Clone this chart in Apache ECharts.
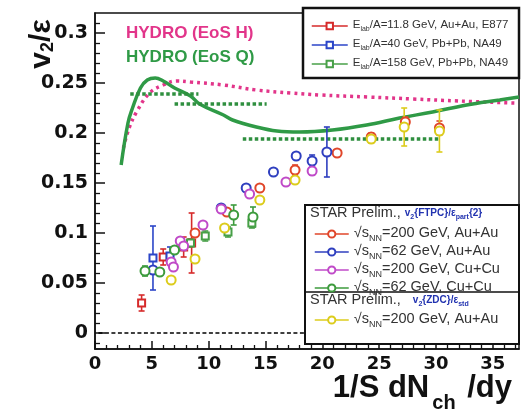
<!DOCTYPE html>
<html>
<head>
<meta charset="utf-8">
<script src="https://cdn.jsdelivr.net/npm/echarts@6/dist/echarts.min.js"></script>
<style>
html, body { margin: 0; padding: 0; background: #fff; }
#chart { width: 524px; height: 417px; }
</style>
</head>
<body>
<div id="chart"></div>
<script>
// hydro curves, [x, v2/eps]
var hydroH = [[2.5, 0.185], [3.0, 0.205], [3.7, 0.222], [4.8, 0.240], [6.0, 0.248], [7.2, 0.252], [8.4, 0.251],
    [11.3, 0.248], [14.2, 0.243], [17.2, 0.240], [19.8, 0.238], [24, 0.236], [28, 0.234], [32, 0.232], [36.9, 0.230]];
var hydroQ = [[2.3, 0.168], [2.9, 0.210], [3.3, 0.225], [4.0, 0.245], [4.6, 0.253], [5.3, 0.255], [6.0, 0.252],
    [7.0, 0.245], [8.4, 0.237], [9.2, 0.229], [11.3, 0.218], [12.1, 0.213], [14.2, 0.206], [16.0, 0.202],
    [18.0, 0.201], [20.9, 0.203], [23.9, 0.208], [26.8, 0.215], [29.7, 0.221], [32.7, 0.228], [35.6, 0.233], [37.3, 0.236]];
// dotted green bands: [xFrom, xTo, y]
var hydroSegs = [[3.1, 9.1, 0.239], [7.0, 15.1, 0.229], [13.0, 30.2, 0.194]];
// dashed zero reference: [xFrom, y, xTo]
var zeroLine = [[0.3, 0, 37.3]];

// measurements: [x, y, error]  (error 0 = no bar)
var e877 = [[4.1, 0.030, 0.008], [6.0, 0.076, 0.008], [7.8, 0.086, 0.010], [8.5, 0.090, 0.030]];
var na49lo = [[5.1, 0.075, 0.032], [6.6, 0.077, 0.009]];
var na49hi = [[8.4, 0.090, 0.004], [9.7, 0.097, 0.005], [11.7, 0.101, 0.005], [13.8, 0.110, 0.005]];
var au200 = [[8.8, 0.100, 0], [11.6, 0.121, 0], [14.5, 0.145, 0], [17.6, 0.163, 0.005], [21.3, 0.180, 0],
    [24.3, 0.196, 0.004], [27.3, 0.211, 0.005], [30.3, 0.205, 0.007]];
var au62 = [[5.1, 0.063, 0], [11.1, 0.125, 0], [13.3, 0.145, 0], [15.7, 0.161, 0], [17.7, 0.177, 0],
    [19.1, 0.172, 0.006], [20.4, 0.181, 0.025]];
var cu200 = [[6.7, 0.071, 0], [6.9, 0.066, 0], [7.5, 0.092, 0], [7.8, 0.087, 0], [9.5, 0.108, 0],
    [11.1, 0.124, 0], [13.6, 0.139, 0], [16.8, 0.151, 0], [19.1, 0.162, 0.004]];
var cu62 = [[4.4, 0.062, 0.005], [5.7, 0.061, 0], [7.0, 0.083, 0], [12.2, 0.118, 0.010], [13.9, 0.116, 0.010]];
var zdc = [[6.7, 0.053, 0], [8.8, 0.074, 0], [11.4, 0.105, 0], [14.5, 0.133, 0], [17.6, 0.153, 0],
    [24.3, 0.194, 0.004], [27.2, 0.206, 0.019], [30.3, 0.202, 0.021]];

var yMajor = [0, 0.05, 0.1, 0.15, 0.2, 0.25, 0.3];
var yMinor = [-0.01, 0.01, 0.02, 0.03, 0.04, 0.06, 0.07, 0.08, 0.09, 0.11, 0.12, 0.13, 0.14, 0.16, 0.17, 0.18, 0.19,
    0.21, 0.22, 0.23, 0.24, 0.26, 0.27, 0.28, 0.29, 0.31];
var xMajor = [0, 5, 10, 15, 20, 25, 30, 35];
var xMinor = [1, 2, 3, 4, 6, 7, 8, 9, 11, 12, 13, 14, 16, 17, 18, 19, 21, 22, 23, 24, 26, 27, 28, 29, 31, 32, 33, 34, 36, 37];

var names = {
    e877: 'Elab/A=11.8 GeV, Au+Au, E877',
    na49lo: 'Elab/A=40 GeV, Pb+Pb, NA49',
    na49hi: 'Elab/A=158 GeV, Pb+Pb, NA49',
    au200: 'sNN=200 GeV, Au+Au',
    au62: 'sNN=62 GeV, Au+Au',
    cu200: 'sNN=200 GeV, Cu+Cu',
    cu62: 'sNN=62 GeV, Cu+Cu',
    zdc: 'sNN=200 GeV, Au+Au (ZDC)'
};
var legendText = {};
legendText[names.e877] = '{t|E}{s|lab}{t|/A=11.8 GeV, Au+Au, E877}';
legendText[names.na49lo] = '{t|E}{s|lab}{t|/A=40 GeV, Pb+Pb, NA49}';
legendText[names.na49hi] = '{t|E}{s|lab}{t|/A=158 GeV, Pb+Pb, NA49}';
legendText[names.au200] = '{t|√s}{s|NN}{t|=200 GeV, Au+Au}';
legendText[names.au62] = '{t|√s}{s|NN}{t|=62 GeV, Au+Au}';
legendText[names.cu200] = '{t|√s}{s|NN}{t|=200 GeV, Cu+Cu}';
legendText[names.cu62] = '{t|√s}{s|NN}{t|=62 GeV, Cu+Cu}';
legendText[names.zdc] = '{t|√s}{s|NN}{t|=200 GeV, Au+Au}';

function pointSeries(name, pts, color, symbol, size) {
    return {
        name: name,
        type: 'line',
        data: pts.map(function (p) { return [p[0], p[1]]; }),
        symbol: symbol,
        symbolSize: size,
        showSymbol: true,
        lineStyle: { opacity: 0, width: 1.5, color: color },
        itemStyle: { color: color, borderColor: color, borderWidth: 1.5 },
        z: 4,
        silent: true,
        animation: false
    };
}

function errorSeries(pts, color) {
    return {
        type: 'custom',
        data: pts.filter(function (p) { return p[2] > 0; }),
        encode: { x: 0, y: 1 },
        z: 3,
        silent: true,
        animation: false,
        renderItem: function (params, api) {
            var x = api.value(0), y = api.value(1), e = api.value(2);
            var hi = api.coord([x, y + e]);
            var lo = api.coord([x, y - e]);
            var cap = 3;
            var st = { stroke: color, lineWidth: 1.6 };
            return {
                type: 'group',
                children: [
                    { type: 'line', shape: { x1: hi[0], y1: hi[1], x2: lo[0], y2: lo[1] }, style: st },
                    { type: 'line', shape: { x1: hi[0] - cap, y1: hi[1], x2: hi[0] + cap, y2: hi[1] }, style: st },
                    { type: 'line', shape: { x1: lo[0] - cap, y1: lo[1], x2: lo[0] + cap, y2: lo[1] }, style: st }
                ]
            };
        }
    };
}

var sets = [
    { key: 'e877', pts: e877, color: '#d62a2a', symbol: 'emptyRect', size: 7 },
    { key: 'na49lo', pts: na49lo, color: '#2b45c8', symbol: 'emptyRect', size: 7 },
    { key: 'na49hi', pts: na49hi, color: '#48a048', symbol: 'emptyRect', size: 7 },
    { key: 'au200', pts: au200, color: '#e0462a', symbol: 'emptyCircle', size: 9 },
    { key: 'au62', pts: au62, color: '#2f3fbf', symbol: 'emptyCircle', size: 9 },
    { key: 'cu200', pts: cu200, color: '#c04ac8', symbol: 'emptyCircle', size: 9 },
    { key: 'cu62', pts: cu62, color: '#3d9b3d', symbol: 'emptyCircle', size: 9 },
    { key: 'zdc', pts: zdc, color: '#dccc1c', symbol: 'emptyCircle', size: 9 }
];

var series = [];
series.push({
    type: 'custom', data: zeroLine, z: 3, silent: true, animation: false, clip: false,
    encode: { x: [0, 2], y: 1 },
    renderItem: function (params, api) {
        var a = api.coord([api.value(0), api.value(1)]);
        var b = api.coord([api.value(2), api.value(1)]);
        return {
            type: 'line',
            shape: { x1: a[0], y1: a[1], x2: b[0], y2: b[1] },
            style: { stroke: '#000', lineWidth: 1.3, lineDash: [4, 2.5] }
        };
    }
});
series.push({
    type: 'line', data: hydroH, smooth: 0.4, symbol: 'none', z: 2, silent: true, animation: false,
    lineStyle: { color: '#e2358a', width: 3.5, type: [3, 4], cap: 'butt' }
});
series.push({
    type: 'line', data: hydroQ, smooth: 0.4, symbol: 'none', z: 2, silent: true, animation: false,
    lineStyle: { color: '#2f9a46', width: 3.5 }
});
hydroSegs.forEach(function (s) {
    series.push({
        type: 'line', data: [[s[0], s[2]], [s[1], s[2]]], symbol: 'none', z: 2, silent: true, animation: false,
        lineStyle: { color: '#2f8f3f', width: 3.5, type: [3.5, 2.5], cap: 'butt' }
    });
});
sets.forEach(function (d) {
    series.push(errorSeries(d.pts, d.color));
    series.push(pointSeries(names[d.key], d.pts, d.color, d.symbol, d.size));
});

var smallRich = {
    t: { fontSize: 11.5, color: '#333', padding: [0, 0, 2, 0], verticalAlign: 'bottom' },
    s: { fontSize: 7, color: '#333', verticalAlign: 'bottom' }
};
var bigRich = {
    t: { fontSize: 14.5, color: '#333', padding: [0, 0, 3, 0], verticalAlign: 'bottom' },
    s: { fontSize: 9, color: '#333', verticalAlign: 'bottom' }
};
function fmt(name) { return legendText[name]; }
var legendCommon = {
    orient: 'vertical',
    selectedMode: false,
    formatter: fmt,
    lineStyle: { width: 1.5, opacity: 1 },
    itemStyle: { opacity: 1 },
    z: 21
};

var option = {
    animation: false,
    backgroundColor: '#fff',
    textStyle: { fontFamily: 'Liberation Sans, Arial, sans-serif' },
    grid: {
        left: 95, right: 5, top: 13, bottom: 68, show: true, borderColor: '#111', borderWidth: 1.5,
        containLabel: false, outerBoundsMode: 'none'
    },
    xAxis: [{
        type: 'value', min: 0, max: 37.3, position: 'bottom',
        axisLine: { onZero: false, lineStyle: { color: '#111', width: 1.5 } },
        axisTick: { inside: true, length: 8, customValues: xMajor, lineStyle: { color: '#111', width: 1.5 } },
        axisLabel: {
            customValues: xMajor, margin: 6, color: '#111', fontSize: 18, fontWeight: 'bold',
            fontFamily: 'DejaVu Sans'
        },
        splitLine: { show: false }
    }, {
        type: 'value', min: 0, max: 37.3, position: 'bottom',
        axisLine: { show: false, onZero: false },
        axisTick: { inside: true, length: 4, customValues: xMinor, lineStyle: { color: '#111', width: 1.3 } },
        axisLabel: { show: false },
        splitLine: { show: false }
    }],
    yAxis: [{
        type: 'value', min: -0.016, max: 0.32, position: 'left',
        axisLine: { onZero: false, lineStyle: { color: '#111', width: 1.5 } },
        axisTick: { inside: true, length: 10, customValues: yMajor, lineStyle: { color: '#111', width: 1.5 } },
        axisLabel: {
            customValues: yMajor, margin: 7, color: '#111', fontSize: 19, fontWeight: 'bold',
            fontFamily: 'DejaVu Sans',
            formatter: function (v) { return String(+v.toFixed(2)); }
        },
        splitLine: { show: false }
    }, {
        type: 'value', min: -0.016, max: 0.32, position: 'left',
        axisLine: { show: false, onZero: false },
        axisTick: { inside: true, length: 5, customValues: yMinor, lineStyle: { color: '#111', width: 1.3 } },
        axisLabel: { show: false },
        splitLine: { show: false }
    }],
    legend: [
        echarts.util.extend({
            data: [names.e877, names.na49lo, names.na49hi],
            left: 306, top: 14, itemWidth: 36, itemHeight: 8, itemGap: 5,
            textStyle: { rich: smallRich }
        }, legendCommon),
        echarts.util.extend({
            data: [names.au200, names.au62, names.cu200, names.cu62],
            left: 309, top: 220, itemWidth: 34, itemHeight: 9, itemGap: 0,
            textStyle: { rich: bigRich }
        }, legendCommon),
        echarts.util.extend({
            data: [names.zdc],
            left: 309, top: 306, itemWidth: 34, itemHeight: 9, itemGap: 0,
            textStyle: { rich: bigRich }
        }, legendCommon)
    ],
    graphic: [
        { type: 'rect', z: 20, shape: { x: 303, y: 8, width: 216, height: 70 }, style: { fill: '#fff', stroke: '#111', lineWidth: 2.5 } },
        { type: 'rect', z: 20, shape: { x: 305, y: 205, width: 214, height: 139 }, style: { fill: '#fff', stroke: '#111', lineWidth: 2 } },
        { type: 'line', z: 20, shape: { x1: 305, y1: 292, x2: 519, y2: 292 }, style: { stroke: '#111', lineWidth: 1.5 } },
        {
            type: 'text', z: 22, x: 310, y: 213,
            style: {
                text: '{h|STAR Prelim., }v{q|2}{FTPC}/ε{q|part}{2}',
                fill: '#2233b0', font: 'bold 10px Liberation Sans', verticalAlign: 'middle',
                rich: {
                    h: { fontSize: 14.5, fontWeight: 'normal', fill: '#333' },
                    q: { fontSize: 7, fontWeight: 'bold', fill: '#2233b0', verticalAlign: 'bottom', padding: [6, 0, 0, 0] }
                }
            }
        },
        {
            type: 'text', z: 22, x: 310, y: 300,
            style: {
                text: '{h|STAR Prelim.,   }v{q|2}{ZDC}/ε{q|std}',
                fill: '#2233b0', font: 'bold 10px Liberation Sans', verticalAlign: 'middle',
                rich: {
                    h: { fontSize: 14.5, fontWeight: 'normal', fill: '#333' },
                    q: { fontSize: 7, fontWeight: 'bold', fill: '#2233b0', verticalAlign: 'bottom', padding: [6, 0, 0, 0] }
                }
            }
        },
        {
            type: 'text', z: 22, x: 126, y: 33,
            style: { text: 'HYDRO (EoS H)', fill: '#e2358a', font: 'bold 17px Liberation Sans', verticalAlign: 'middle' }
        },
        {
            type: 'text', z: 22, x: 126, y: 57,
            style: { text: 'HYDRO (EoS Q)', fill: '#2f9a46', font: 'bold 17px Liberation Sans', verticalAlign: 'middle' }
        },
        {
            type: 'text', z: 22, x: 42, y: 44, rotation: Math.PI / 2,
            style: {
                text: '{v|v}{d|2}{v|/ε}',
                align: 'center', verticalAlign: 'middle',
                rich: {
                    v: { fontSize: 30, fontWeight: 'bold', fontFamily: 'Liberation Sans', fill: '#111' },
                    d: { fontSize: 18, fontWeight: 'bold', fontFamily: 'Liberation Sans', fill: '#111', verticalAlign: 'bottom', padding: [12, 0, 0, 0] }
                }
            }
        },
        {
            type: 'text', z: 22, x: 512, y: 373,
            style: {
                text: '{a|1/S dN}{b|ch}{a| /dy}',
                align: 'right', verticalAlign: 'top',
                rich: {
                    a: { fontSize: 31, fontWeight: 'bold', fontFamily: 'Liberation Sans', fill: '#111', verticalAlign: 'top' },
                    b: { fontSize: 20, fontWeight: 'bold', fontFamily: 'Liberation Sans', fill: '#111', verticalAlign: 'bottom', padding: [20, 3, 0, 3] }
                }
            }
        }
    ],
    series: series
};

var chart = echarts.init(document.getElementById('chart'));
chart.setOption(option);
</script>
</body>
</html>
